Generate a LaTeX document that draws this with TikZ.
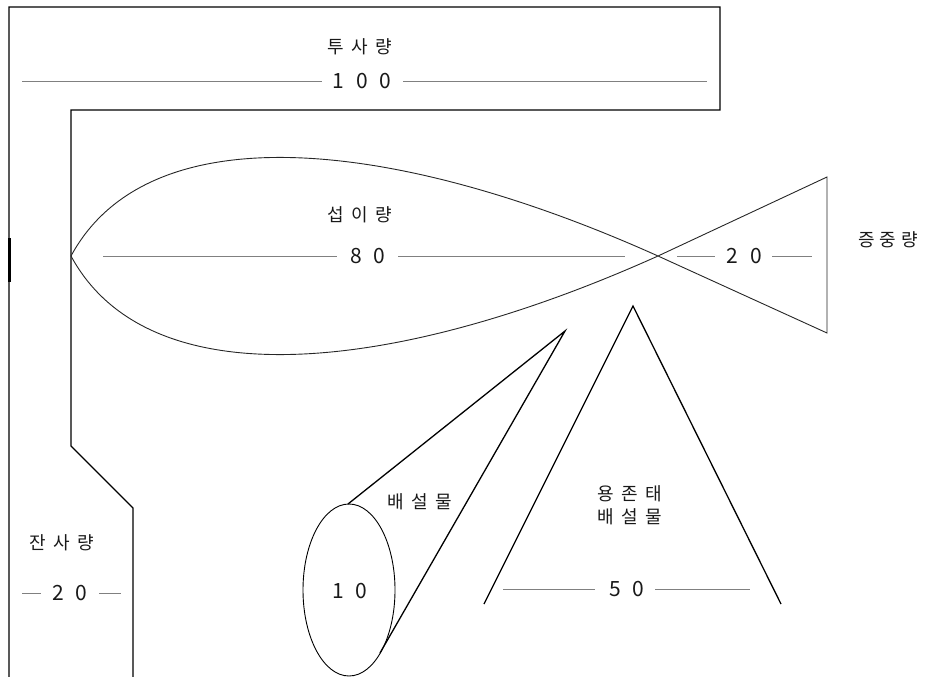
\documentclass[tikz,border=0pt]{standalone}
\usepackage{fontspec}
\usetikzlibrary{shapes.geometric}
\setmainfont{Noto Sans CJK KR}
\newcommand\kg{\hspace{7.5pt}}
\newcommand\dg{\hspace{12pt}}
\begin{document}
\begin{tikzpicture}[x=1pt,y=-1pt,
  shapeline/.style={draw=black,line width=1.3pt,line join=miter},
  fishline/.style={draw=black!85,line width=0.9pt},
  dimline/.style={draw=black!50,line width=0.9pt},
  lbl/.style={inner sep=0pt,font=\fontsize{18pt}{21pt}\selectfont,text=black!90},
  num/.style={inner sep=0pt,font=\fontsize{21pt}{23pt}\selectfont,text=black!90}]
\useasboundingbox (0,0) rectangle (926,677);
% outer frame
\coordinate (o1) at (9,677);
\coordinate (o2) at (9,7);
\coordinate (o3) at (720,7);
\coordinate (o4) at (720,110);
\coordinate (o5) at (71,110);
\coordinate (o6) at (71,446);
\coordinate (o7) at (133,508);
\coordinate (o8) at (133,677);
\draw[shapeline] (o1) -- (o2) -- (o3) -- (o4) -- (o5) -- (o6) -- (o7) -- (o8);
\coordinate (t1) at (9,238);
\coordinate (t2) at (9,282);
\draw[black,line width=3pt] (t1) -- (t2);
% fish
\coordinate (tip) at (71,256);
\coordinate (cross) at (658,256);
\coordinate (tailtop) at (827,177);
\coordinate (tailbot) at (827,333);
\draw[fishline] (tip) .. controls (150,110) and (400,140) .. (cross) -- (tailbot) -- (tailtop) -- (cross)
  .. controls (400,372) and (150,402) .. (tip);
% cone
\node[draw=black,line width=0.9pt,ellipse,minimum width=92pt,minimum height=172pt,inner sep=0pt] (ell) at (349,590) {};
\coordinate (ctop) at (348,504);
\coordinate (capex) at (565,331);
\coordinate (cbot) at (380,653);
\draw[shapeline] (ctop) -- (capex) -- (cbot);
% triangle
\coordinate (tl) at (484,604);
\coordinate (tapex) at (633,306);
\coordinate (tr) at (781,604);
\draw[shapeline] (tl) -- (tapex) -- (tr);
% texts
\node[lbl] (tusa) at (360,47) {투\kg 사\kg 량};
\node[num] (n100) at (362,81) {1\dg 0\dg 0};
\coordinate (a1) at (22,81); \coordinate (a2) at (322,81);
\coordinate (a3) at (403,81); \coordinate (a4) at (707,81);
\draw[dimline] (a1) -- (a2) (a3) -- (a4);
\node[lbl] (seop) at (360,215) {섭\kg 이\kg 량};
\node[num] (n80) at (368,256) {8\dg 0};
\coordinate (b1) at (103,256); \coordinate (b2) at (337,256);
\coordinate (b3) at (398,256); \coordinate (b4) at (625,256);
\draw[dimline] (b1) -- (b2) (b3) -- (b4);
\node[num] (n20f) at (744,256) {2\dg 0};
\coordinate (c1) at (677,256); \coordinate (c2) at (715,256);
\coordinate (c3) at (772,256); \coordinate (c4) at (812,256);
\draw[dimline] (c1) -- (c2) (c3) -- (c4);
\node[lbl] (jeung) at (888,240) {증\hspace{5pt}중\hspace{5pt}량};
\node[lbl] (jan) at (62,543) {잔\kg 사\kg 량};
\node[num] (n20l) at (70,593) {2\dg 0};
\coordinate (d1) at (22,593); \coordinate (d2) at (41,593);
\coordinate (d3) at (99,593); \coordinate (d4) at (121,593);
\draw[dimline] (d1) -- (d2) (d3) -- (d4);
\node[lbl] (bae1) at (420,502) {배\kg 설\kg 물};
\node[num] (n10) at (350,591) {1\dg 0};
\node[lbl] (yong) at (630,494) {용\kg 존\kg 태};
\node[lbl] (bae2) at (630,517) {배\kg 설\kg 물};
\node[num] (n50) at (627,589) {5\dg 0};
\coordinate (e1) at (503,589); \coordinate (e2) at (595,589);
\coordinate (e3) at (655,589); \coordinate (e4) at (750,589);
\draw[dimline] (e1) -- (e2) (e3) -- (e4);
\end{tikzpicture}
\end{document}
